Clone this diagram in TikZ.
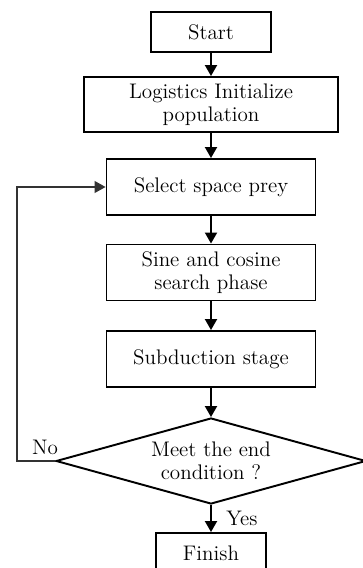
\documentclass[tikz,border=0pt]{standalone}
\usepackage{tikz}
\usetikzlibrary{shapes.geometric, arrows.meta, positioning, calc}

\begin{document}
\begin{tikzpicture}[
    x=0.02cm, y=-0.02cm,
    box/.style={rectangle, draw, line width=1.1pt, minimum width=4.18cm, minimum height=1.12cm, font=\fontsize{12}{12.8}\selectfont, align=center, inner sep=2pt},
    decision/.style={diamond, draw, line width=1.1pt, aspect=3.6, inner sep=0pt, minimum width=6.2cm, minimum height=1.72cm, font=\fontsize{12}{12.8}\selectfont, align=center},
    arrow/.style={-{Triangle[length=2.2mm, width=2.4mm]}, line width=1.1pt},
    loopline/.style={-{Triangle[length=2.2mm, width=2.4mm]}, line width=0.6pt, black!80},
    lbl/.style={font=\fontsize{12}{12.8}\selectfont}
]
    \useasboundingbox (0,0) rectangle (362,568);

    % Main column of steps
    \node[box, minimum width=2.4cm, minimum height=0.8cm] (start) at (211,32) {Start};
    \node[box, minimum width=5.08cm, minimum height=1.1cm] (init) at (211,104.5) {Logistics Initialize\\population};
    \node[box] (select) at (211,187) {Select space prey};
    \node[box] (sine) at (211,272.5) {Sine and cosine\\search phase};
    \node[box] (subd) at (211,359) {Subduction stage};
    \node[decision] (cond) at (211,461) {Meet the end\\condition ?};
    \node[box, minimum width=2.2cm, minimum height=0.8cm] (finish) at (211,553) {Finish};

    % Straight arrows down
    \draw[arrow] (start) -- (init);
    \draw[arrow] (init) -- (select);
    \draw[arrow] (select) -- (sine);
    \draw[arrow] (sine) -- (subd);
    \draw[arrow] (subd) -- (cond);
    \draw[arrow] (cond) -- (finish);

    % Loop back when not finished
    \coordinate (bend) at (17,461);
    \draw[loopline] (cond.west) -- (bend) |- (select.west);

    % Branch labels
    \node[lbl] (no) at (45,447) {No};
    \node[lbl] (yes) at (242,518) {Yes};
\end{tikzpicture}
\end{document}
